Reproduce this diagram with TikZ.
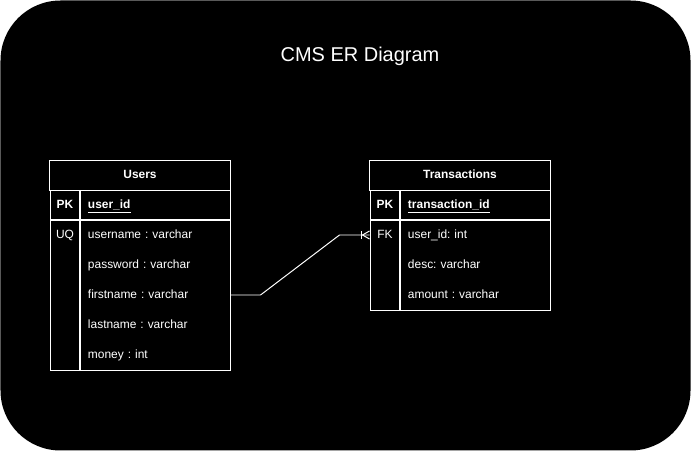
\documentclass[tikz,border=0pt]{standalone}
\usepackage{fontspec}
\setmainfont{Liberation Sans}
\usetikzlibrary{calc}
\usetikzlibrary{positioning}
\frenchspacing

\tikzset{
	cell/.style={draw=white, line width=0.7pt, inner sep=0pt, minimum height=0.75cm, text height=6.4pt, text depth=1.6pt, text=white, font=\fontsize{8.5}{10}\selectfont},
	head/.style={cell, minimum width=4.5cm, font=\fontsize{8.5}{10}\selectfont\bfseries},
	keycell/.style={cell, minimum width=0.75cm},
	namecell/.style={cell, minimum width=3.75cm, text width=3.35cm, inner xsep=0.2cm, align=left},
	attr/.style={namecell, draw=none},
	keytext/.style={keycell, draw=none},
	link/.style={draw=white, line width=0.7pt}
}

\begin{document}
\begin{tikzpicture}[x=0.025cm, y=-0.025cm]
				\useasboundingbox (0,0) rectangle (691,451);
				\fill[white] (0,0) rectangle (691,451);
				\fill[black, rounded corners=1.5cm] (0.5,0.5) rectangle (690.5,450.5);
				
				\node[text=white, font=\fontsize{14.2}{17}\selectfont] (title) at (360,56) {CMS ER Diagram};
				
				% Users
				\node[head] (users) at (140,175) {Users};
				\node[keycell, font=\fontsize{8.5}{10}\selectfont\bfseries] (usersPk) at (65,205) {PK};
				\node[namecell, font=\fontsize{8.5}{10}\selectfont\bfseries] (userId) at (155,205) {\underline{user\_id}};
				\node[keycell, minimum height=3.75cm] (usersKeys) at (65,295) {};
				\node[cell, minimum width=3.75cm, minimum height=3.75cm] (usersBody) at (155,295) {};
				\node[keytext] (usersUq) at (65,235) {UQ};
				\node[attr] (username) at (155,235) {username : varchar};
				\node[attr] (password) at (155,265) {password : varchar};
				\node[attr] (firstname) at (155,295) {firstname : varchar};
				\node[attr] (lastname) at (155,325) {lastname : varchar};
				\node[attr] (money) at (155,355) {money : int};
				
				% Transactions
				\node[head] (trans) at (460,175) {Transactions};
				\node[keycell, font=\fontsize{8.5}{10}\selectfont\bfseries] (transPk) at (385,205) {PK};
				\node[namecell, font=\fontsize{8.5}{10}\selectfont\bfseries] (transId) at (475,205) {\underline{transaction\_id}};
				\node[keycell, minimum height=2.25cm] (transKeys) at (385,265) {};
				\node[cell, minimum width=3.75cm, minimum height=2.25cm] (transBody) at (475,265) {};
				\node[keytext] (transFk) at (385,235) {FK};
				\node[attr] (transUser) at (475,235) {user\_id: int};
				\node[attr] (transDesc) at (475,265) {desc: varchar};
				\node[attr] (transAmount) at (475,295) {amount : varchar};
				
				% relation
				\draw[link] (firstname.east) -- ++(30,0) -- ($(transFk.west)+(-30,0)$) -- (transFk.west);
				\draw[link] ($(transFk.west)+(-8,-4)$) -- ++(0,8);
				\draw[link] ($(transFk.west)+(0,-4)$) -- ($(transFk.west)+(-7,0)$) -- ($(transFk.west)+(0,4)$);
			\end{tikzpicture}
\end{document}
